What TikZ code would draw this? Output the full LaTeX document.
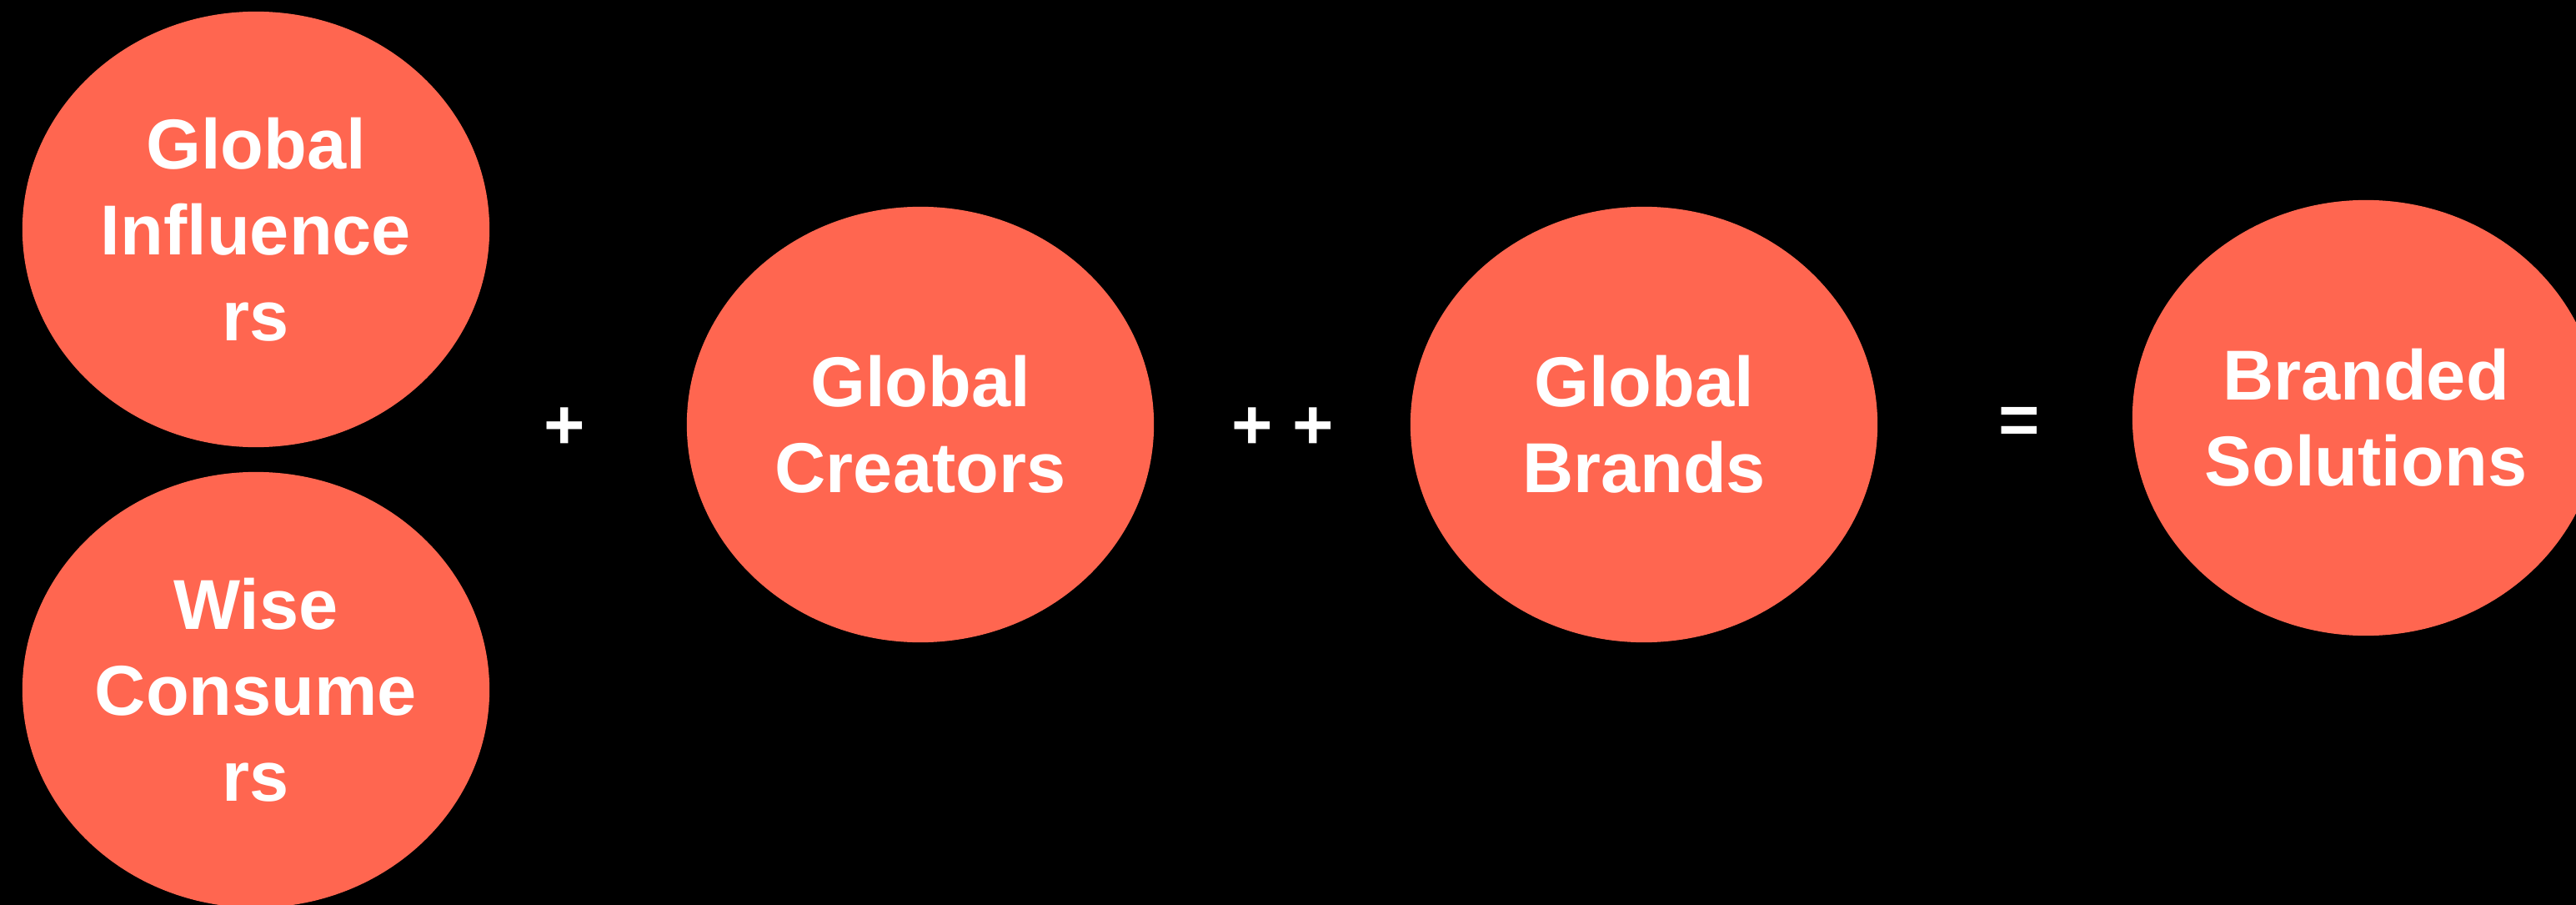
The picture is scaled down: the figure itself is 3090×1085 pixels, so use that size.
\documentclass[tikz,border=0pt]{standalone}
\usepackage{fontspec}
\setmainfont{Liberation Sans}
\usetikzlibrary{shapes.geometric}
\definecolor{coral}{RGB}{255,102,80}
\tikzset{
  blob/.style={ellipse, fill=coral, draw=none, minimum width=5.6cm, minimum height=5.22cm,
    inner sep=0pt, align=center, text=white, font=\fontsize{24.1}{29.3}\selectfont\bfseries},
  opsign/.style={text=white, inner sep=0pt, font=\fontsize{24.1}{29.3}\selectfont\bfseries}
}
\begin{document}
\begin{tikzpicture}[x=0.01cm,y=-0.01cm]
\useasboundingbox (0,0) rectangle (3090,1085);
\clip (0,0) rectangle (3090,1085);
\fill[black] (0,0) rectangle (3090,1085);
\node[blob] (infl) at (307,275) {Global\\Influence\\rs};
\node[blob] (cons) at (307,827) {Wise\\Consume\\rs};
\node[blob] (crea) at (1104,509) {Global\\Creators};
\node[blob] (bran) at (1972,509) {Global\\Brands};
\node[blob] (solu) at (2838,501) {Branded\\Solutions};
\node[opsign] (plus1) at (677,514) {+};
\node[opsign] (plus2) at (1539,514) {+ +};
\node[opsign] (equal) at (2422,510) {=};
\end{tikzpicture}
\end{document}
